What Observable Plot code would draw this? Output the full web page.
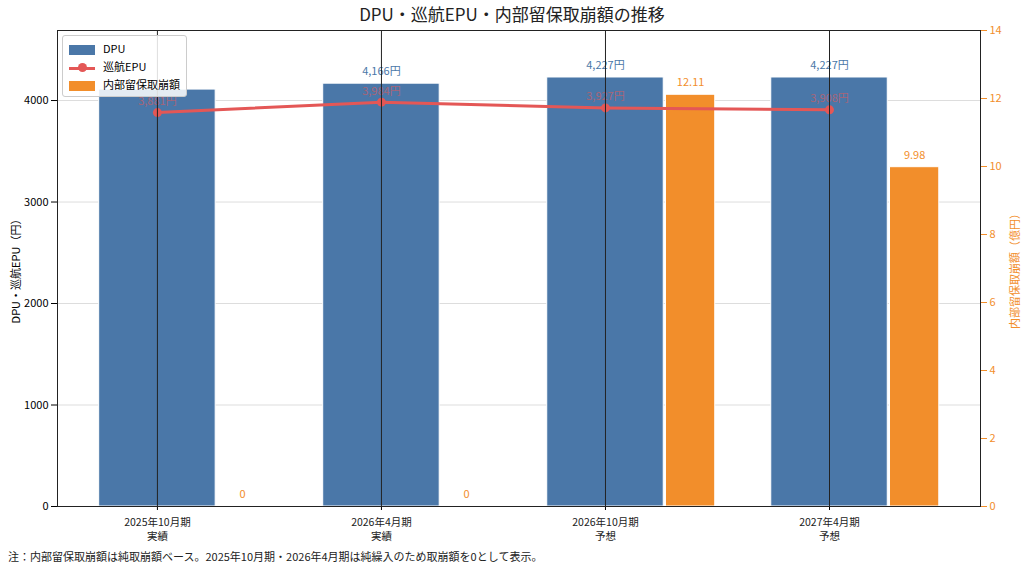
<!DOCTYPE html><html><head><meta charset="utf-8">
<script src="https://cdn.jsdelivr.net/npm/d3@7"></script>
<script src="https://cdn.jsdelivr.net/npm/@observablehq/plot@0.6"></script>
<style>body{margin:0;font-family:"Noto Sans CJK JP",sans-serif;background:#fff;width:1024px;height:572px;position:relative;overflow:hidden}
#t{height:20px;text-align:center;font-size:17px;line-height:28px;color:#222;position:relative;z-index:2}
#f{position:absolute;left:8px;top:548px;font-size:11px;color:#222}
#lg{position:absolute;left:62px;top:35px;border:1px solid #ccc;border-radius:3px;background:rgba(255,255,255,.85);padding:3px 6px;font-size:11px;line-height:18px}
#lg span.s{display:inline-block;width:26px;margin-right:8px;vertical-align:middle}
</style></head><body>
<div id="t">DPU・巡航EPU・内部留保取崩額の推移</div>
<div id="c"></div>
<div id="lg"><div><span class="s" style="height:10px;background:#4a77a8"></span>DPU</div>
<div><span class="s" style="height:3px;background:#e45756;position:relative"><span style="position:absolute;left:9px;top:-3.5px;width:9px;height:9px;border-radius:50%;background:#e45756"></span></span>巡航EPU</div>
<div><span class="s" style="height:10px;background:#f28e2b"></span>内部留保取崩額</div></div>
<div id="f">注：内部留保取崩額は純取崩額ベース。2025年10月期・2026年4月期は純繰入のため取崩額を0として表示。</div>
<script>
const periods=["2025年10月期\n実績","2026年4月期\n実績","2026年10月期\n予想","2027年4月期\n予想"];
const dpu=[4108,4166,4227,4227];
const epu=[3881,3984,3927,3908];
const draw=[0,0,12.11,9.98];
const yTop=4690, k=yTop/14;
const rows=periods.map((p,i)=>({i,p,dpu:dpu[i],epu:epu[i],draw:draw[i],d2:draw[i]*k}));
const fmt=d3.format(",");
const blue="#4a77a8",red="#e45756",orange="#f28e2b";
const svg=Plot.plot({width:1024,height:524,marginLeft:57,marginRight:44,marginTop:10,marginBottom:38,
 x:{domain:[-0.446,3.674]},y:{domain:[0,yTop]},
 style:{fontFamily:"Noto Sans CJK JP",fontSize:"11px"},
 marks:[
  Plot.gridY([1000,2000,3000,4000],{stroke:"#ddd",strokeOpacity:1}),
  Plot.rectY(rows,{x1:d=>d.i-0.26,x2:d=>d.i+0.26,y:"dpu",fill:blue,stroke:"white",strokeWidth:1}),
  Plot.rectY(rows,{x1:d=>d.i+0.27,x2:d=>d.i+0.49,y:"d2",fill:orange,stroke:"white",strokeWidth:1}),
  Plot.text(rows.filter(d=>d.i>0),{x:"i",y:"dpu",text:d=>fmt(d.dpu)+"円",dy:-12,fill:blue,fontSize:11}),
  Plot.text(rows,{x:d=>d.i+0.38,y:"d2",text:d=>d.draw===0?"0":d3.format(".2f")(d.draw),dy:-12,fill:orange,fontSize:11}),
  Plot.line(rows,{x:"i",y:"epu",stroke:red,strokeWidth:3}),
  Plot.dot(rows,{x:"i",y:"epu",fill:red,r:4.5}),
  Plot.text(rows,{x:"i",y:"epu",text:d=>fmt(d.epu)+"円",dy:-11,fill:red,fillOpacity:0.6,fontSize:11}),
  Plot.tickX(rows,{x:"i",y1:0,y2:0,stroke:"#222"}),
  Plot.axisX({ticks:[0,1,2,3],tickFormat:()=>"",label:null,tickSize:4}),
  Plot.text(rows,{x:"i",y:0,text:"p",dy:22,lineHeight:1.3,fontSize:10.5,fill:"#222"}),
  Plot.axisY({ticks:[0,1000,2000,3000,4000],tickFormat:d=>String(d),label:"DPU・巡航EPU（円）",labelAnchor:"center",labelArrow:"none",labelOffset:45}),
  Plot.axisY({anchor:"right",ticks:d3.range(0,15,2).map(v=>v*k),tickFormat:d=>Math.round(d/k),color:orange,label:"内部留保取崩額（億円）",labelAnchor:"center",labelArrow:"none",labelOffset:38}),
  Plot.frame({stroke:"#222"})
 ]});
document.getElementById("c").appendChild(svg);
</script></body></html>
